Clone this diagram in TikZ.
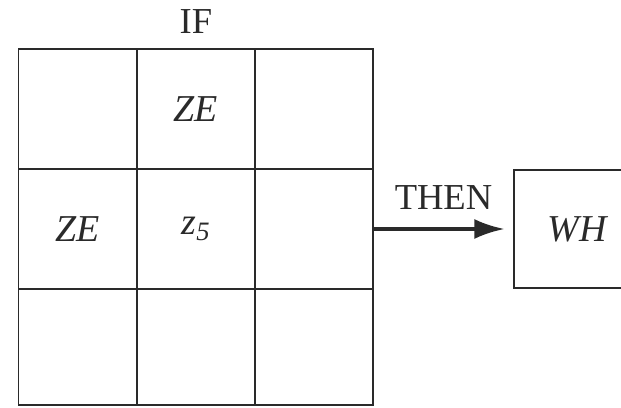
\documentclass[tikz,border=0pt]{standalone}
\usepackage{fontspec}
\setmainfont{Liberation Serif}
\usepackage{tikz}
\usetikzlibrary{arrows.meta,positioning}
\definecolor{ink}{HTML}{2A2A2A}

\begin{document}
\begin{tikzpicture}[
  x=0.025cm, y=-0.025cm,
  cell/.style={
    draw=ink, line width=1.2pt, inner sep=0pt,
    minimum width=2.95cm, minimum height=3cm,
    font=\fontsize{27}{32}\selectfont\itshape, text=ink
  },
  arr/.style={-{Latex[length=7.5mm,width=5mm]}, ink, line width=2.4pt},
  lab/.style={font=\fontsize{26}{31}\selectfont, text=ink, inner sep=0pt}
]
  \clip (0,0) rectangle (621,408);

  % IF grid, 3 x 3
  \node[cell] (c11) at (77.5, 109) {};
  \node[cell] (c12) at (196,  109) {ZE};
  \node[cell] (c13) at (314,  109) {};
  \node[cell] (c21) at (77.5, 229) {ZE};
  \node[cell] (c22) at (196,  229) {z\textsubscript{5}};
  \node[cell] (c23) at (314,  229) {};
  \node[cell, minimum height=2.9cm] (c31) at (77.5, 347) {};
  \node[cell, minimum height=2.9cm] (c32) at (196,  347) {};
  \node[cell, minimum height=2.9cm] (c33) at (314,  347) {};

  \node[lab, above=0.35cm of c12.north] (if) {IF};

  % THEN part
  \node[cell, minimum width=3.15cm, minimum height=2.95cm] (wh) at (577, 229) {WH};

  \draw[arr, shorten >=0.22cm] (c23.east) -- node[lab, above=0.45cm]{THEN} (wh.west);
\end{tikzpicture}
\end{document}
